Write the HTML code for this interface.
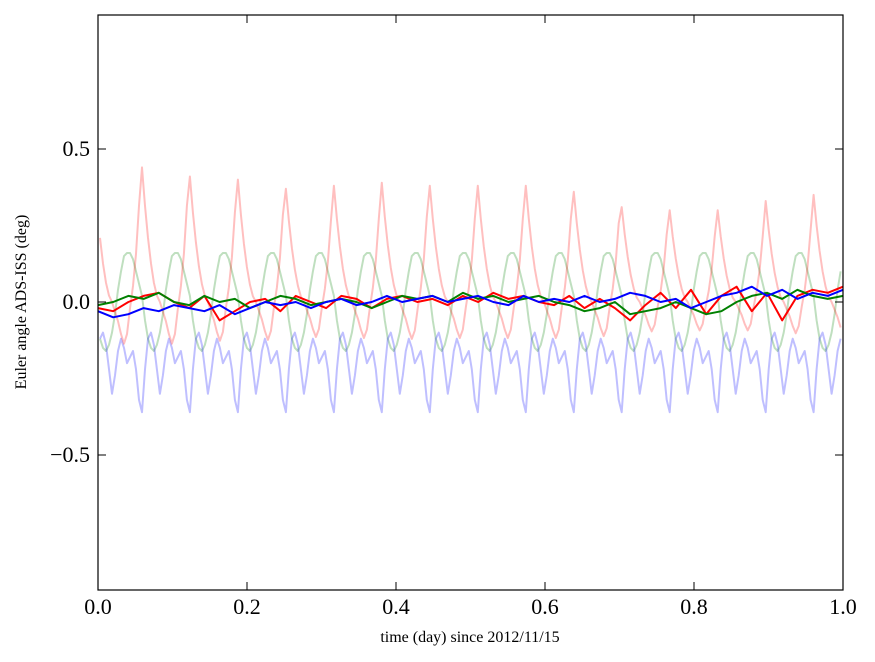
<!DOCTYPE html>
<html><head><meta charset="utf-8"><style>
body{margin:0;background:#fff;}
svg{display:block;font-family:"Liberation Serif",serif;}
</style></head><body>
<svg id="chart" width="875" height="662" viewBox="0 0 875 662">
<rect x="0" y="0" width="875" height="662" fill="#fff"/>
<g id="series"></g>
<rect x="98" y="15" width="745" height="575" fill="none" stroke="#000" stroke-width="1.2"/>
<g id="axes"></g>
<text x="470" y="642" font-size="16" text-anchor="middle">time (day) since 2012/11/15</text>
<text transform="translate(26,302) rotate(-90)" font-size="16" text-anchor="middle">Euler angle ADS-ISS (deg)</text>
</svg>
<script>
const xTicks=[0,0.2,0.4,0.6,0.8,1.0];
const xTickLabels=["0.0","0.2","0.4","0.6","0.8","1.0"];
const yTicks=[-0.5,0,0.5];
const yTickLabels=["\u22120.5","0.0","0.5"];
const period=0.0644;
const firstPeak=0.059;
const redPeaks=[0.44,0.41,0.40,0.37,0.38,0.39,0.38,0.38,0.38,0.36,0.31,0.30,0.30,0.33,0.35];
const redTemplate=[0.42,0.30,0.20,0.12,0.06,0.02,0.0,-0.03,-0.06,-0.10,-0.13,-0.10,-0.02,0.05,0.15,0.30];
const greenTemplate=[0.02,-0.06,-0.12,-0.15,-0.16,-0.14,-0.10,-0.04,0.04,0.10,0.15,0.16,0.16,0.14,0.10,0.06];
const blueTemplate=[-0.36,-0.22,-0.12,-0.10,-0.14,-0.22,-0.30,-0.24,-0.16,-0.12,-0.15,-0.20,-0.18,-0.16,-0.22,-0.32];
const redBold=[-0.02,-0.03,0.0,0.02,0.03,0.0,-0.02,0.02,-0.06,-0.03,0.0,0.01,-0.03,0.02,0.0,-0.02,0.02,0.01,-0.02,0.01,0.02,0.0,0.01,-0.01,0.02,0.0,0.03,0.01,0.02,0.0,-0.01,0.02,-0.02,0.01,-0.02,-0.06,-0.01,0.03,-0.02,0.04,-0.04,0.02,0.05,-0.03,0.03,-0.06,0.02,0.04,0.03,0.05];
const greenBold=[-0.01,0.0,0.02,0.01,0.03,0.0,-0.01,0.02,0.0,0.01,-0.02,0.0,0.02,0.01,-0.01,0.0,0.01,0.0,-0.02,0.0,0.02,0.01,0.02,0.0,0.03,0.01,0.02,0.0,0.01,0.02,0.0,-0.01,-0.03,-0.02,0.0,-0.04,-0.03,-0.02,0.0,-0.02,-0.04,-0.03,0.0,0.02,0.03,0.01,0.04,0.02,0.01,0.02];
const blueBold=[-0.03,-0.05,-0.04,-0.02,-0.03,-0.01,-0.02,-0.03,-0.01,-0.04,-0.02,0.0,-0.01,0.0,-0.02,0.0,0.01,-0.01,0.0,0.02,0.0,0.01,0.02,0.0,0.01,0.02,0.0,-0.01,0.02,0.0,0.01,0.0,0.02,0.0,0.01,0.03,0.02,0.0,0.01,-0.02,0.0,0.02,0.03,0.05,0.02,0.04,0.01,0.03,0.02,0.04];
const L=98,R=843,T=15,B=590;
function sx(v){return L+v*(R-L);}
function sy(v){return 302-v*306;}
const NS="http://www.w3.org/2000/svg";
const sg=document.getElementById('series');
function addLine(pts,color,w,op,name){
  const p=document.createElementNS(NS,'polyline');
  p.setAttribute('points',pts.map(q=>sx(q[0]).toFixed(1)+','+sy(q[1]).toFixed(1)).join(' '));
  p.setAttribute('fill','none');p.setAttribute('stroke',color);p.setAttribute('stroke-width',w);p.setAttribute('stroke-opacity',op);p.setAttribute('stroke-linejoin','round');
  
  
  sg.appendChild(p);
}
function periodic(tpl,scales,base){
  const pts=[];const n=tpl.length;const dt=period/n;
  for(let k=-1;k<=redPeaks.length;k++){
    const s=scales?scales[Math.max(0,Math.min(scales.length-1,k))]/0.42:1;
    for(let j=0;j<n;j++){
      const t=firstPeak+k*period+j*dt;
      if(t<0||t>1)continue;
      pts.push([t,tpl[j]*(base?s:1)]);
    }
  }
  return pts;
}
addLine(periodic(greenTemplate,null,false),'#008000',2,0.25,'green-raw-line');
addLine(periodic(blueTemplate,null,false),'#0000ff',2,0.25,'blue-raw-line');
addLine(periodic(redTemplate,redPeaks,true),'#ff0000',2,0.25,'red-raw-line');
function bold(arr){return arr.map((v,i)=>[i/(arr.length-1),v]);}
addLine(bold(redBold),'#ff0000',2,1,'red-smoothed-line');
addLine(bold(greenBold),'#008000',2,1,'green-smoothed-line');
addLine(bold(blueBold),'#0000ff',2,1,'blue-smoothed-line');
const ax=document.getElementById('axes');
xTicks.forEach((v,i)=>{
  [[B,B-8],[T,T+8]].forEach(y=>{const l=document.createElementNS(NS,'line');l.setAttribute('x1',sx(v));l.setAttribute('x2',sx(v));l.setAttribute('y1',y[0]);l.setAttribute('y2',y[1]);l.setAttribute('stroke','#000');
  
  
  ax.appendChild(l);});
  const t=document.createElementNS(NS,'text');t.setAttribute('x',sx(v));t.setAttribute('y',614);t.setAttribute('font-size','22');t.setAttribute('text-anchor','middle');t.textContent=xTickLabels[i];
  
  
  ax.appendChild(t);
});
yTicks.forEach((v,i)=>{
  [[L,L+8],[R,R-8]].forEach(x=>{const l=document.createElementNS(NS,'line');l.setAttribute('y1',sy(v));l.setAttribute('y2',sy(v));l.setAttribute('x1',x[0]);l.setAttribute('x2',x[1]);l.setAttribute('stroke','#000');
  
  
  ax.appendChild(l);});
  const t=document.createElementNS(NS,'text');t.setAttribute('x',90);t.setAttribute('y',sy(v)+7);t.setAttribute('font-size','22');t.setAttribute('text-anchor','end');t.textContent=yTickLabels[i];
  
  
  ax.appendChild(t);
});
</script>
</body></html>
